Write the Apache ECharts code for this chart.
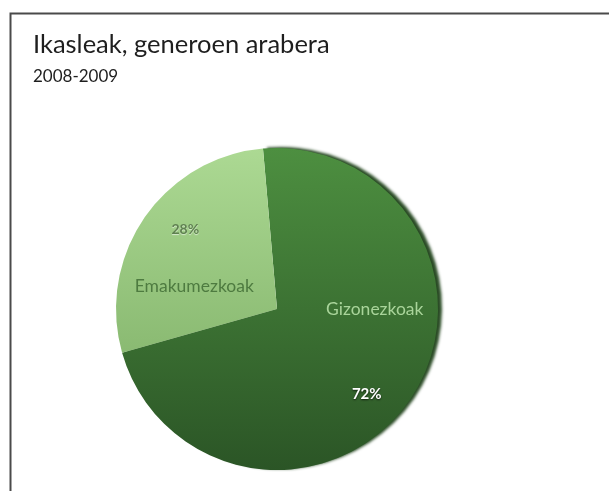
<!DOCTYPE html>
<html><head><meta charset="utf-8">
<script src="https://cdn.jsdelivr.net/npm/echarts@6/dist/echarts.min.js"></script>
<style>html,body{margin:0;padding:0;background:#fff}#c{width:609px;height:491px}</style></head>
<body><div id="c"></div>
<script>
const titleText = 'Ikasleak, generoen arabera';
const subtitleText = '2008-2009';
const categories = ['Gizonezkoak', 'Emakumezkoak'];
const values = [72, 28];

const chart = echarts.init(document.getElementById('c'));
const fills = [
  new echarts.graphic.LinearGradient(0, 0, 0, 1, [{offset: 0, color: '#4d8f40'}, {offset: 1, color: '#2b5526'}]),
  new echarts.graphic.LinearGradient(0, 0, 0, 1, [{offset: 0, color: '#acd993'}, {offset: 1, color: '#8aba72'}])
];
const data = categories.map((c, i) => ({
  name: c, value: values[i],
  itemStyle: i === 0 ? {color: fills[i], shadowColor: 'rgba(30,65,25,0.95)', shadowBlur: 3, shadowOffsetX: 4, shadowOffsetY: -1}
                     : {color: fills[i]}
}));

chart.setOption({
  backgroundColor: '#fff',
  animation: false,
  title: {
    text: titleText, subtext: subtitleText, left: 28, top: 27, itemGap: 10,
    textStyle: {fontFamily: 'Lato', fontSize: 25.5, fontWeight: 'normal', color: '#1e1e1e'},
    subtextStyle: {fontFamily: 'Lato', fontSize: 17, color: '#1e1e1e'}
  },
  graphic: [{type: 'rect', left: 8, top: 11, shape: {width: 640, height: 520}, style: {fill: 'none', stroke: '#4a4a4a', lineWidth: 2}, silent: true}],
  series: [{
    type: 'pie', center: [277, 309], radius: 161, startAngle: 95, clockwise: true,
    data: data,
    label: {
      position: 'inside',
      formatter: p => p.dataIndex === 0 ? '{n0|' + p.name + '}\n{p0|' + p.value + '%}' : '{p1|' + p.value + '%}\n{n1|' + p.name + '}',
      rich: {
        n0: {fontFamily: 'Lato', fontSize: 17.5, color: '#a9d49a', lineHeight: 85},
        p0: {fontFamily: 'Lato', fontSize: 15, fontWeight: 'bold', color: '#ffffff', lineHeight: 85, padding: [0, 16, 0, 0], textShadowColor: 'rgba(0,0,0,0.7)', textShadowBlur: 2, textShadowOffsetY: 1},
        n1: {fontFamily: 'Lato', fontSize: 17.5, color: '#4e7b40', lineHeight: 57},
        p1: {fontFamily: 'Lato', fontSize: 14, fontWeight: 'bold', color: '#5f8150', lineHeight: 57, padding: [0, 18, 0, 0], textShadowColor: 'rgba(255,255,255,0.6)', textShadowBlur: 1, textShadowOffsetY: 1}
      }
    },
    labelLayout: params => params.dataIndex === 0 ? {dx: 29, dy: -5} : {dx: -14, dy: -4},
    labelLine: {show: false},
    emphasis: {disabled: true}
  }]
});
</script></body></html>
